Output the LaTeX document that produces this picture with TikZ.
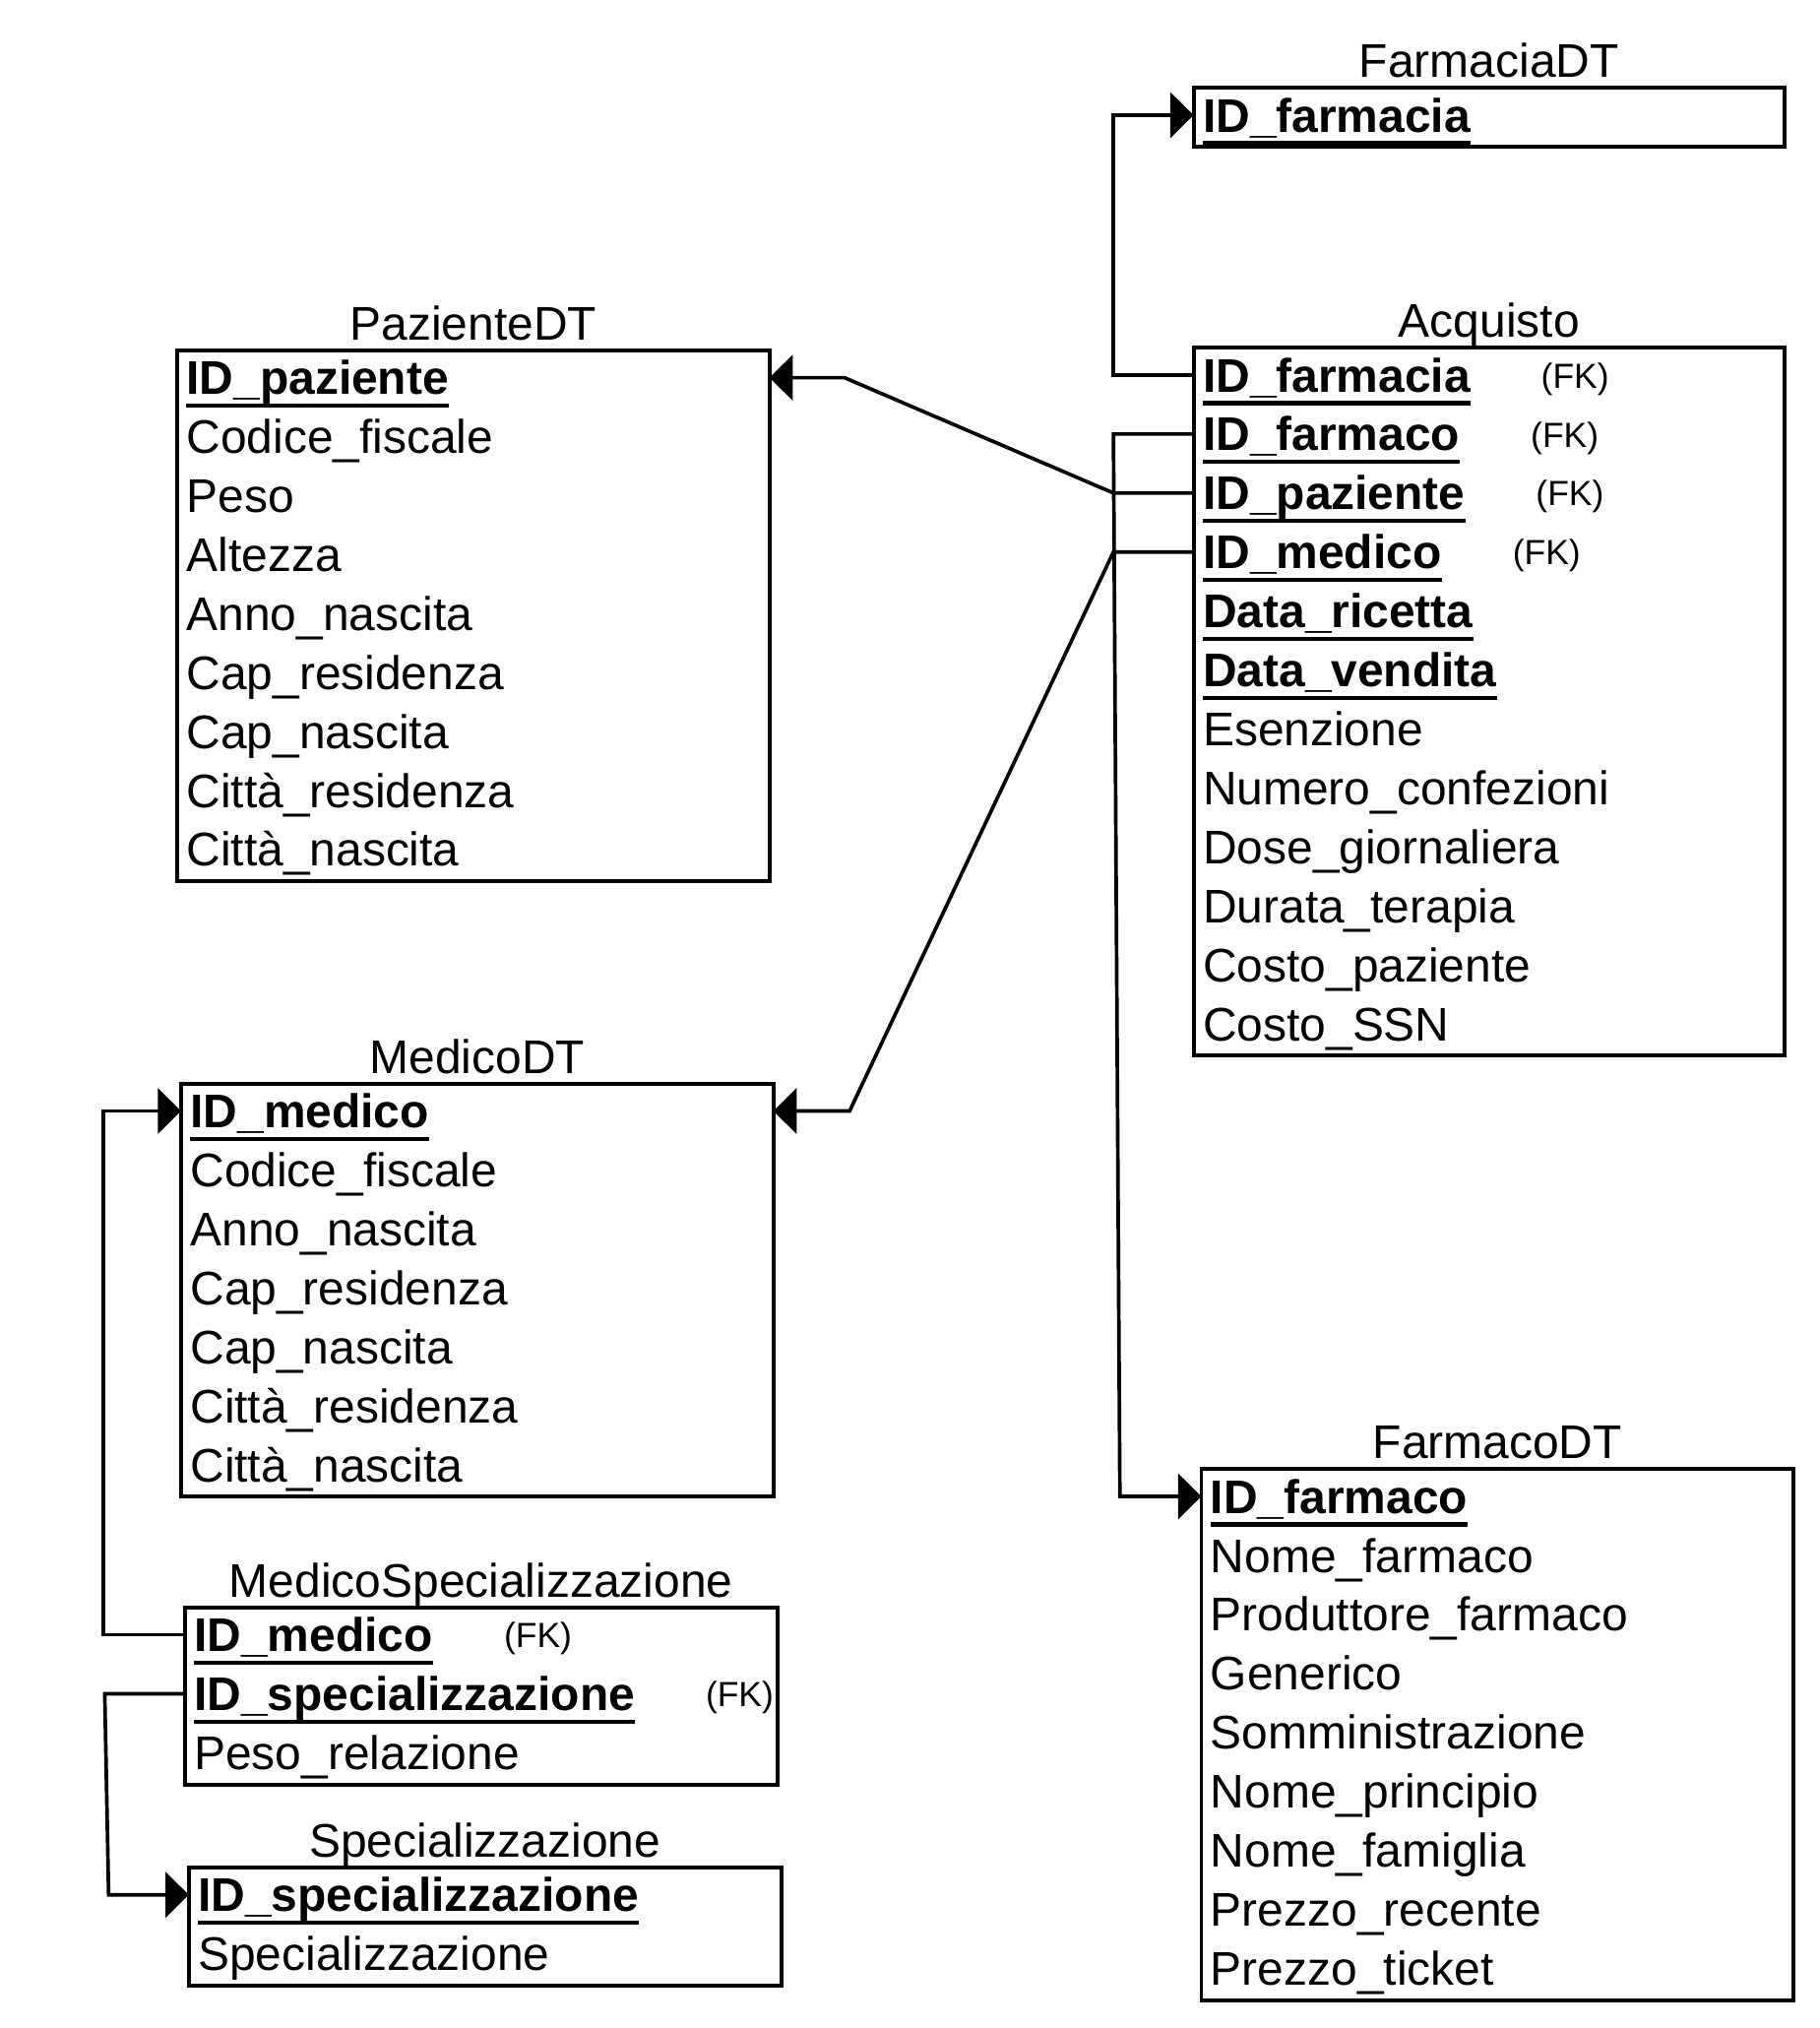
\documentclass[tikz,border=0pt]{standalone}
\usepackage{fontspec}
\setmainfont{Liberation Sans}
\usetikzlibrary{arrows.meta}
\newsavebox\keysbox
\newcommand\key[1]{\sbox\keysbox{\bfseries #1}\rlap{\rule[-0.28em]{\wd\keysbox}{0.085em}}\usebox\keysbox}
\newcommand\rowfont{\fontsize{36.5}{43}\selectfont}
\newcommand\fkfont{\fontsize{27}{32}\selectfont}
\tikzset{
  tbox/.style={draw, line width=3pt, anchor=north west, inner sep=0pt, outer sep=0pt},
  ttitle/.style={anchor=base, inner sep=0pt, font=\rowfont},
  rowtext/.style={anchor=west, inner sep=0pt, text height=26pt, text depth=0pt, font=\rowfont},
  fk/.style={anchor=center, inner sep=0pt, text height=26pt, text depth=0pt, font=\fkfont, yshift=3pt},
  conn/.style={line width=2.8pt, -{Triangle[length=18pt,width=35pt]}}
}
\newcommand\mktable[7]{%
  \node[tbox, minimum width=#4pt, minimum height=#5pt] (#1) at (#2,#3) {};
  \node[ttitle] (#1-t) at ([yshift=8pt]#1.north) {#6};
  \foreach \r [count=\i] in {#7}
    \node[rowtext] (#1-\i) at ({#2+7},{#3+21+45.6*(\i-1)}) {\r};
}
\begin{document}
\begin{tikzpicture}[x=1pt,y=-1pt]
\useasboundingbox (0,0) rectangle (1407,1568);

\mktable{farm}{923}{68}{457}{45.6}{FarmaciaDT}{{\key{ID\_farmacia}}}

\mktable{acq}{923}{269}{457}{547.2}{Acquisto}{{\key{ID\_farmacia}},{\key{ID\_farmaco}},{\key{ID\_paziente}},{\key{ID\_medico}},{\key{Data\_ricetta}},{\key{Data\_vendita}},Esenzione,Numero\_confezioni,Dose\_giornaliera,Durata\_terapia,Costo\_paziente,Costo\_SSN}

\mktable{paz}{137}{271}{458}{410.4}{PazienteDT}{{\key{ID\_paziente}},Codice\_fiscale,Peso,Altezza,Anno\_nascita,Cap\_residenza,Cap\_nascita,Città\_residenza,Città\_nascita}

\mktable{med}{140}{838}{458}{319.2}{MedicoDT}{{\key{ID\_medico}},Codice\_fiscale,Anno\_nascita,Cap\_residenza,Cap\_nascita,Città\_residenza,Città\_nascita}

\mktable{ms}{143}{1243}{458}{136.8}{MedicoSpecializzazione}{{\key{ID\_medico}},{\key{ID\_specializzazione}},Peso\_relazione}

\mktable{spec}{146}{1444}{458}{91.2}{Specializzazione}{{\key{ID\_specializzazione}},Specializzazione}

\mktable{fco}{929}{1136}{458}{410.4}{FarmacoDT}{{\key{ID\_farmaco}},Nome\_farmaco,Produttore\_farmaco,Generico,Somministrazione,Nome\_principio,Nome\_famiglia,Prezzo\_recente,Prezzo\_ticket}

% FK labels
\node[fk] (acq-fk1) at (1218,0 |- acq-1) {(FK)};
\node[fk] (acq-fk2) at (1210,0 |- acq-2) {(FK)};
\node[fk] (acq-fk3) at (1214,0 |- acq-3) {(FK)};
\node[fk] (acq-fk4) at (1196,0 |- acq-4) {(FK)};
\node[fk] (ms-fk1) at (416,0 |- ms-1) {(FK)};
\node[fk] (ms-fk2) at (572,0 |- ms-2) {(FK)};

% bend coordinates
\coordinate (bus) at (861,0);
\coordinate (busb) at (866,0);
\coordinate (pzb) at (653,0);
\coordinate (mdb) at (657,0);
\coordinate (lb1) at (80,0);
\coordinate (lb2) at (81,0);
\coordinate (lb3) at (84,0);

\draw[conn] (acq.west |- acq-1) -- (bus |- acq-1) -- (bus |- farm-1) -- (farm.west |- farm-1);
\draw[conn] (acq.west |- acq-2) -- (bus |- acq-2) -- (busb |- fco-1) -- (fco.west |- fco-1);
\draw[conn] (acq.west |- acq-3) -- (bus |- acq-3) -- (pzb |- paz-1) -- (paz.east |- paz-1);
\draw[conn] (acq.west |- acq-4) -- (bus |- acq-4) -- (mdb |- med-1) -- (med.east |- med-1);
\draw[conn] (ms.west |- ms-1) -- (lb1 |- ms-1) -- (lb1 |- med-1) -- (med.west |- med-1);
\draw[conn] (ms.west |- ms-2) -- (lb2 |- ms-2) -- (lb3 |- spec-1) -- (spec.west |- spec-1);
\end{tikzpicture}
\end{document}
